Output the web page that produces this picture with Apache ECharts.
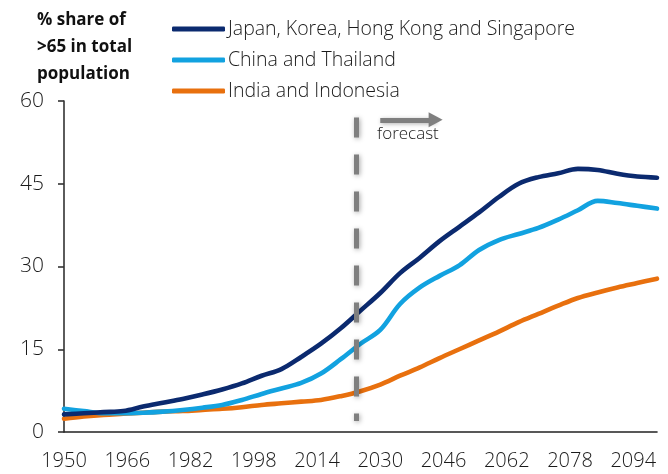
<!DOCTYPE html>
<html>
<head>
<meta charset="utf-8">
<script src="https://cdn.jsdelivr.net/npm/echarts@6/dist/echarts.min.js"></script>
<style>
  html, body { margin: 0; padding: 0; background: #fff; }
  #chart { width: 668px; height: 474px; }
</style>
</head>
<body>
<div id="chart"></div>
<script>
// Share of population aged 65+ (%), five-year points
const years = [1950, 1955, 1960, 1965, 1970, 1975, 1980, 1985, 1990, 1995, 2000,
  2005, 2010, 2015, 2020, 2025, 2030, 2035, 2040, 2045, 2050, 2055, 2060,
  2065, 2070, 2075, 2080, 2085, 2090, 2095, 2100];

const japanKoreaHkSg = [3.2, 3.4, 3.6, 3.8, 4.6, 5.3, 6.0, 6.8, 7.7, 8.8, 10.2,
  11.4, 13.6, 16.0, 18.8, 22.0, 25.2, 28.8, 31.6, 34.6, 37.2, 39.8, 42.6,
  45.0, 46.2, 46.9, 47.7, 47.5, 46.8, 46.3, 46.1];

const chinaThailand = [4.2, 3.8, 3.4, 3.4, 3.5, 3.7, 4.0, 4.4, 4.9, 5.8, 6.9,
  7.9, 8.9, 10.6, 13.2, 16.0, 18.5, 23.2, 26.2, 28.3, 30.2, 33.0, 34.8,
  35.9, 37.0, 38.5, 40.2, 41.9, 41.5, 41.0, 40.5];

const indiaIndonesia = [2.4, 2.8, 3.1, 3.3, 3.5, 3.7, 3.8, 4.0, 4.2, 4.5, 4.9,
  5.2, 5.5, 5.8, 6.5, 7.4, 8.6, 10.2, 11.7, 13.4, 15.0, 16.6, 18.2,
  19.9, 21.4, 22.9, 24.3, 25.3, 26.2, 27.0, 27.8];

const seriesNames = ['Japan, Korea, Hong Kong and Singapore', 'China and Thailand', 'India and Indonesia'];
const seriesColors = ['#0b2a6f', '#12a2e0', '#e8700e'];

// Annual category axis from 1950 to 2100; labels every 16 years
const firstYear = 1950, lastYear = 2100, labelStep = 16;
const yearCategories = [];
for (let y = firstYear; y <= lastYear; y++) yearCategories.push(String(y));

const forecastStart = '2024';
const arrowFrom = '2030', arrowTo = '2044';
const yMin = 0, yMax = 60, yStep = 15;

const fontFamily = '"Open Sans", "Liberation Sans", sans-serif';

function pairs(values) {
  return years.map((y, i) => [String(y), values[i]]);
}

const chart = echarts.init(document.getElementById('chart'), null, { renderer: 'canvas' });

const option = {
  backgroundColor: '#ffffff',
  animation: false,
  graphic: [{
    type: 'text',
    left: 37,
    top: 7,
    style: {
      text: '% share of\n>65 in total\npopulation',
      fill: '#111',
      font: 'bold 17px ' + fontFamily,
      lineHeight: 27,
      align: 'center'
    }
  }],
  legend: {
    orient: 'vertical',
    left: 172,
    top: 19,
    padding: 0,
    itemWidth: 53,
    itemHeight: 5,
    itemGap: 11,
    icon: 'roundRect',
    textStyle: { fontFamily: fontFamily, fontSize: 19.5, fontWeight: 300, color: '#1a1a1a', padding: [0, 0, 0, -2] },
    data: seriesNames
  },
  grid: { left: 64, right: 11, top: 101, bottom: 42, containLabel: false },
  xAxis: {
    type: 'category',
    data: yearCategories,
    boundaryGap: false,
    axisLine: { lineStyle: { color: '#222', width: 1.6 } },
    axisTick: { show: false },
    axisLabel: {
      interval: labelStep - 1,
      margin: 19,
      fontFamily: fontFamily,
      fontSize: 20,
      fontWeight: 300,
      color: '#1a1a1a'
    },
    splitLine: { show: false }
  },
  yAxis: {
    type: 'value',
    min: yMin,
    max: yMax,
    interval: yStep,
    axisLine: { show: true, lineStyle: { color: '#333', width: 1.6 } },
    axisTick: { show: true, length: 6, lineStyle: { color: '#333', width: 1.6 } },
    axisLabel: {
      margin: 20,
      fontFamily: fontFamily,
      fontSize: 21,
      fontWeight: 300,
      color: '#1a1a1a'
    },
    splitLine: { show: false }
  },
  series: [
    {
      name: seriesNames[0],
      type: 'line',
      data: pairs(japanKoreaHkSg),
      smooth: 0.35,
      symbol: 'none',
      color: seriesColors[0],
      lineStyle: { width: 4.6, color: seriesColors[0], cap: 'round' },
      z: 4,
      markLine: {
        silent: true,
        symbol: ['none', 'none'],
        label: { show: false },
        lineStyle: {
          color: '#7f7f7f',
          width: 5,
          type: [20, 17],
          shadowBlur: 5,
          shadowColor: 'rgba(0,0,0,0.35)',
          shadowOffsetX: 1,
          shadowOffsetY: 1
        },
        data: [[
          { coord: [forecastStart, 57] },
          { coord: [forecastStart, 2] }
        ]]
      }
    },
    {
      name: seriesNames[1],
      type: 'line',
      data: pairs(chinaThailand),
      smooth: 0.35,
      symbol: 'none',
      color: seriesColors[1],
      lineStyle: { width: 4.6, color: seriesColors[1], cap: 'round' },
      z: 3,
      markLine: {
        silent: true,
        symbol: ['none', 'triangle'],
        symbolSize: [15, 14],
        symbolRotate: -90,
        lineStyle: {
          color: '#7f7f7f',
          width: 5,
          type: 'solid',
          shadowBlur: 4,
          shadowColor: 'rgba(0,0,0,0.3)',
          shadowOffsetX: 1,
          shadowOffsetY: 1
        },
        label: {
          show: true,
          position: 'insideMiddleBottom',
          formatter: 'forecast',
          distance: 6,
          fontFamily: fontFamily,
          fontSize: 17,
          fontWeight: 300,
          color: '#1a1a1a'
        },
        data: [[
          { coord: [arrowFrom, 56.6] },
          { coord: [arrowTo, 56.6] }
        ]]
      }
    },
    {
      name: seriesNames[2],
      type: 'line',
      data: pairs(indiaIndonesia),
      smooth: 0.35,
      symbol: 'none',
      color: seriesColors[2],
      lineStyle: { width: 4.6, color: seriesColors[2], cap: 'round' },
      z: 2
    }
  ]
};

chart.setOption(option);
</script>
</body>
</html>
